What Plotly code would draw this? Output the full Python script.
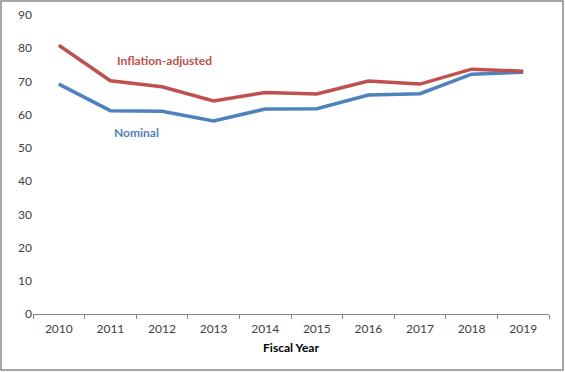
import plotly.graph_objects as go

years = ["2010", "2011", "2012", "2013", "2014", "2015", "2016", "2017", "2018", "2019"]
inflation_adjusted = [80.9, 70.2, 68.4, 64.1, 66.7, 66.2, 70.1, 69.2, 73.7, 73.1]
nominal = [69.2, 61.2, 61.0, 58.1, 61.7, 61.8, 65.9, 66.3, 72.2, 72.8]
y_ticks = [0, 10, 20, 30, 40, 50, 60, 70, 80, 90]

RED = "#C0504D"
BLUE = "#4F81BD"
FONT = "Lato"

fig = go.Figure()
fig.add_trace(go.Scatter(x=years, y=nominal, mode="lines", name="Nominal",
                         line=dict(color=BLUE, width=3.5)))
fig.add_trace(go.Scatter(x=years, y=inflation_adjusted, mode="lines", name="Inflation-adjusted",
                         line=dict(color=RED, width=3.5)))

L, R, T, B = 33, 16, 15, 58
W, H = 565, 372
pw, ph = W - L - R, H - T - B

fig.update_layout(
    width=W, height=H,
    margin=dict(l=L, r=R, t=T, b=B, autoexpand=False),
    paper_bgcolor="white", plot_bgcolor="white",
    showlegend=False,
    font=dict(family=FONT, size=12, color="#404040"),
    xaxis=dict(
        type="category", range=[-0.5, 9.5], automargin=False,
        showgrid=False, showline=True, linecolor="#868686", linewidth=1,
        ticks="outside", tickson="boundaries", ticklen=4, tickcolor="#868686",
        ticklabelstandoff=4,
        tickfont=dict(size=12, color="#404040"),
        title=dict(text="<b>Fiscal Year</b>", font=dict(size=12, color="#000000"), standoff=8),
        fixedrange=True,
    ),
    yaxis=dict(
        range=[0, 90], tickvals=y_ticks, showgrid=False, showline=False, automargin=False,
        zeroline=False, ticks="", tickfont=dict(size=12, color="#404040"),
        fixedrange=True,
    ),
    annotations=[
        dict(x=2.05, y=76.2, xref="x", yref="y", text="<b>Inflation-adjusted</b>",
             showarrow=False, font=dict(color=RED, size=12, family=FONT)),
        dict(x=1.5, y=54.5, xref="x", yref="y", text="<b>Nominal</b>",
             showarrow=False, font=dict(color=BLUE, size=12, family=FONT)),
    ],
    shapes=[
        dict(type="rect", xref="paper", yref="paper",
             x0=(1 - L) / pw, x1=1 + (R - 2) / pw,
             y0=-(B - 2) / ph, y1=1 + (T - 1) / ph,
             line=dict(color="#888888", width=1.5), fillcolor="rgba(0,0,0,0)"),
    ],
)

fig.write_html("out.html", config={"displayModeBar": False},
               post_script="document.body.style.margin='0';")
